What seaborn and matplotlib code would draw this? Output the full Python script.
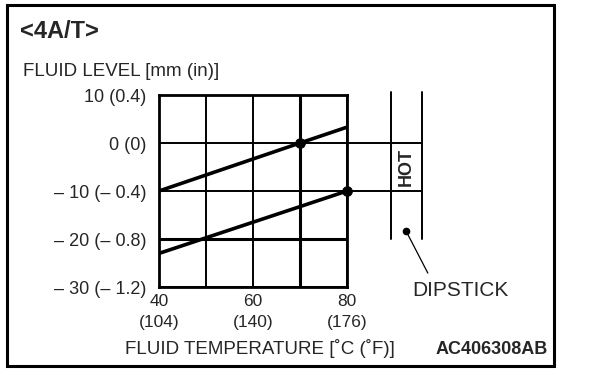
import matplotlib
matplotlib.use("Agg")
import matplotlib.pyplot as plt
import pandas as pd
import seaborn as sns
from matplotlib.patches import Rectangle

# Verideki degerler
temp_upper = [40, 70, 80]
level_upper = [-10, 0, 3.3]
temp_lower = [40, 80]
level_lower = [-23, -10]
mark_temp = [70, 80]
mark_level = [0, -10]
hot_band = [0, -10]          # HOT araligi [mm]
x_ticks = [40, 50, 60, 70, 80]
x_labels = ['40\n(104)', '', '60\n(140)', '', '80\n(176)']
y_ticks = [10, 0, -10, -20, -30]
y_labels = ['10 (0.4)', '0 (0)', '– 10 (– 0.4)', '– 20 (– 0.8)', '– 30 (– 1.2)']

df = pd.DataFrame({
    'temp': temp_upper + temp_lower,
    'level': level_upper + level_lower,
    'line': ['upper'] * len(temp_upper) + ['lower'] * len(temp_lower),
})
marks = pd.DataFrame({'temp': mark_temp, 'level': mark_level})

sns.set_style("white")
plt.rcParams['font.family'] = ['Liberation Sans', 'DejaVu Sans']

W, H = 608, 370
fig = plt.figure(figsize=(W / 100, H / 100), dpi=100)

def fx(x):
    return x / W

def fy(y):
    return 1 - y / H

ax = fig.add_axes([fx(159), fy(287), fx(347) - fx(159), (287 - 95) / H])

sns.lineplot(data=df, x='temp', y='level', units='line', estimator=None,
             color='black', lw=2.6, ax=ax, zorder=5)
sns.scatterplot(data=marks, x='temp', y='level', color='black', s=50,
                edgecolor='black', ax=ax, zorder=6, clip_on=False)

ax.set_xlim(40, 80)
ax.set_ylim(-30, 10)
ax.set_xticks(x_ticks)
ax.set_xticklabels(x_labels, fontsize=12.5, linespacing=1.5)
ax.set_yticks(y_ticks)
ax.set_yticklabels(y_labels, fontsize=13)
ax.tick_params(axis='both', length=0)
ax.tick_params(axis='y', pad=9)
ax.tick_params(axis='x', pad=5)
ax.set_xlabel('')
ax.set_ylabel('')
ax.grid(True, color='black', lw=1.4)
ax.axvline(70, color='black', lw=2.2)
ax.axhline(-20, color='black', lw=2.2)
for s in ax.spines.values():
    s.set_color('black')
    s.set_linewidth(2.0)

# dipstick
x_left, x_right = 89.3, 96.0
for xd in (x_left, x_right):
    ax.plot([xd, xd], [10.6, -20], color='black', lw=1.4, clip_on=False)
for yv in hot_band:
    ax.plot([80, x_right], [yv, yv], color='black', lw=1.4, clip_on=False)
ax.text((x_left + x_right) / 2, sum(hot_band) / 2, 'HOT', rotation=90,
        ha='center', va='center', fontsize=13, fontweight='bold')
ax.plot([92.6], [-18.4], 'o', color='black', ms=4.5, clip_on=False)
ax.plot([92.6, 97.2], [-18.4, -27.1], color='black', lw=0.9, clip_on=False)

fig.text(fx(460), fy(291), 'DIPSTICK', ha='center', va='center', fontsize=15)
fig.text(fx(20), fy(32), '<4A/T>', ha='left', va='center', fontsize=17,
         fontweight='bold')
fig.text(fx(23), fy(72), 'FLUID LEVEL [mm (in)]', ha='left', va='center',
         fontsize=13.5)
fig.text(fx(260), fy(349), 'FLUID TEMPERATURE [˚C (˚F)]', ha='center',
         va='center', fontsize=13.5)
fig.text(fx(548), fy(349), 'AC406308AB', ha='right', va='center',
         fontsize=13, fontweight='bold')

fig.patches.append(Rectangle((fx(7), fy(366)), fx(554) - fx(7), (366 - 5) / H,
                             transform=fig.transFigure, fill=False,
                             edgecolor='black', lw=2.2))

fig.savefig('out.png', dpi=100)
